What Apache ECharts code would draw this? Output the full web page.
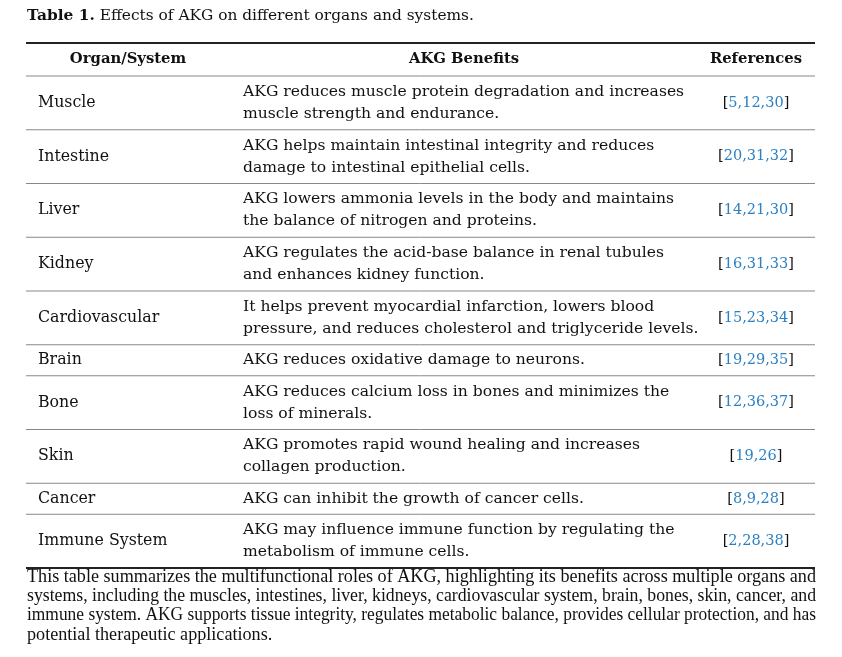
<!DOCTYPE html>
<html>
<head>
<meta charset="utf-8">
<script src="https://cdn.jsdelivr.net/npm/echarts@6/dist/echarts.min.js"></script>
<style>html,body{margin:0;padding:0;background:#fff;}#c{width:842px;height:657px;}</style>
</head>
<body>
<div id="c"></div>
<script>
// ---- data ----
const captionLabel = 'Table 1.';
const captionText = ' Effects of AKG on different organs and systems.';
const headers = ['Organ/System', 'AKG Benefits', 'References'];
const organs = ['Muscle', 'Intestine', 'Liver', 'Kidney', 'Cardiovascular', 'Brain', 'Bone', 'Skin', 'Cancer', 'Immune System'];
const benefits = [
  ['AKG reduces muscle protein degradation and increases', 'muscle strength and endurance.'],
  ['AKG helps maintain intestinal integrity and reduces', 'damage to intestinal epithelial cells.'],
  ['AKG lowers ammonia levels in the body and maintains', 'the balance of nitrogen and proteins.'],
  ['AKG regulates the acid-base balance in renal tubules', 'and enhances kidney function.'],
  ['It helps prevent myocardial infarction, lowers blood', 'pressure, and reduces cholesterol and triglyceride levels.'],
  ['AKG reduces oxidative damage to neurons.'],
  ['AKG reduces calcium loss in bones and minimizes the', 'loss of minerals.'],
  ['AKG promotes rapid wound healing and increases', 'collagen production.'],
  ['AKG can inhibit the growth of cancer cells.'],
  ['AKG may influence immune function by regulating the', 'metabolism of immune cells.']
];
const references = [[5, 12, 30], [20, 31, 32], [14, 21, 30], [16, 31, 33], [15, 23, 34], [19, 29, 35], [12, 36, 37], [19, 26], [8, 9, 28], [2, 28, 38]];
const footnoteLines = [
  'This table summarizes the multifunctional roles of AKG, highlighting its benefits across multiple organs and',
  'systems, including the muscles, intestines, liver, kidneys, cardiovascular system, brain, bones, skin, cancer, and',
  'immune system. AKG supports tissue integrity, regulates metabolic balance, provides cellular protection, and has',
  'potential therapeutic applications.'
];

// ---- layout (in table units) ----
const TABLE_W = 789;
const HEADER_H = 33;
const rowH = n => 8.25 + 22.75 * n;
let acc = HEADER_H;
const rowData = benefits.map((lines, i) => {
  const s = acc; acc += rowH(lines.length);
  return [s, acc, i];
});
const TOTAL_H = acc;

const SERIF = '"DejaVu Serif", serif';
const FOOT_FONT = '18px "Liberation Serif", serif';
const TXT = '#111';
const BLUE = '#2b80c4';
const COL1_X = 12, COL2_X = 217, COL3_C = 730;
const HDR_C = [102, 438, 730];

// measure footnote lines so the justified lines span the table width
const mctx = document.createElement('canvas').getContext('2d');
mctx.font = FOOT_FONT;
const footScales = footnoteLines.map(t => TABLE_W / mctx.measureText(t).width);
footScales[footScales.length - 1] = footScales[0];

function refRich(list) {
  let s = '{b|[}';
  list.forEach((v, k) => { if (k) s += '{n|,}'; s += '{n|' + v + '}'; });
  return s + '{b|]}';
}

const chart = echarts.init(document.getElementById('c'), null, {renderer: 'canvas'});
chart.setOption({
  backgroundColor: '#fff',
  animation: false,
  grid: {left: 26, right: 27, top: 43, bottom: 89},
  xAxis: {type: 'value', min: 0, max: TABLE_W, show: false},
  yAxis: {type: 'value', min: 0, max: TOTAL_H, inverse: true, show: false},
  graphic: [
    {type: 'text', x: 27, y: 16, style: {
      text: '{b|' + captionLabel + '}{n|' + captionText + '}',
      verticalAlign: 'middle',
      rich: {
        b: {font: 'bold 15.4px ' + SERIF, fill: TXT},
        n: {font: '15.4px ' + SERIF, fill: TXT}
      }
    }},
    ...footnoteLines.map((t, k) => ({
      type: 'text', x: 27, y: 577 + k * 19.3, scaleX: footScales[k],
      style: {text: t, font: FOOT_FONT, fill: TXT, verticalAlign: 'middle'}
    }))
  ],
  series: [
    {
      type: 'custom',
      coordinateSystem: 'cartesian2d',
      data: [[0, HEADER_H]],
      renderItem(params, api) {
        const p0 = api.coord([0, api.value(0)]);
        const p1 = api.coord([TABLE_W, api.value(1)]);
        const cy = (p0[1] + p1[1]) / 2;
        const children = [
          {type: 'line', shape: {x1: p0[0], y1: p0[1], x2: p1[0], y2: p0[1]}, style: {stroke: '#222', lineWidth: 2}},
          {type: 'line', shape: {x1: p0[0], y1: p1[1], x2: p1[0], y2: p1[1]}, style: {stroke: '#888', lineWidth: 1}}
        ];
        headers.forEach((h, k) => {
          children.push({type: 'text', style: {
            text: h, x: p0[0] + HDR_C[k], y: cy, font: 'bold 14.8px ' + SERIF, fill: TXT,
            align: 'center', verticalAlign: 'middle'
          }});
        });
        return {type: 'group', children};
      }
    },
    {
      type: 'custom',
      coordinateSystem: 'cartesian2d',
      data: rowData,
      renderItem(params, api) {
        const i = api.value(2);
        const p0 = api.coord([0, api.value(0)]);
        const p1 = api.coord([TABLE_W, api.value(1)]);
        const cy = (p0[1] + p1[1]) / 2;
        const last = i === organs.length - 1;
        const children = [
          {type: 'line', shape: {x1: p0[0], y1: p1[1], x2: p1[0], y2: p1[1]},
            style: last ? {stroke: '#222', lineWidth: 2} : {stroke: '#888', lineWidth: 1}},
          {type: 'text', style: {
            text: organs[i], x: p0[0] + COL1_X, y: cy, font: '15.8px ' + SERIF, fill: TXT,
            align: 'left', verticalAlign: 'middle'
          }},
          {type: 'text', style: {
            text: benefits[i].join('\n'), x: p0[0] + COL2_X, y: cy, font: '15.6px ' + SERIF, fill: TXT,
            lineHeight: 22, align: 'left', verticalAlign: 'middle'
          }},
          {type: 'text', style: {
            text: refRich(references[i]), x: p0[0] + COL3_C, y: cy,
            align: 'center', verticalAlign: 'middle',
            rich: {
              b: {font: '14.5px ' + SERIF, fill: TXT},
              n: {font: '14.5px ' + SERIF, fill: BLUE}
            }
          }}
        ];
        return {type: 'group', children};
      }
    }
  ]
});
</script>
</body>
</html>
